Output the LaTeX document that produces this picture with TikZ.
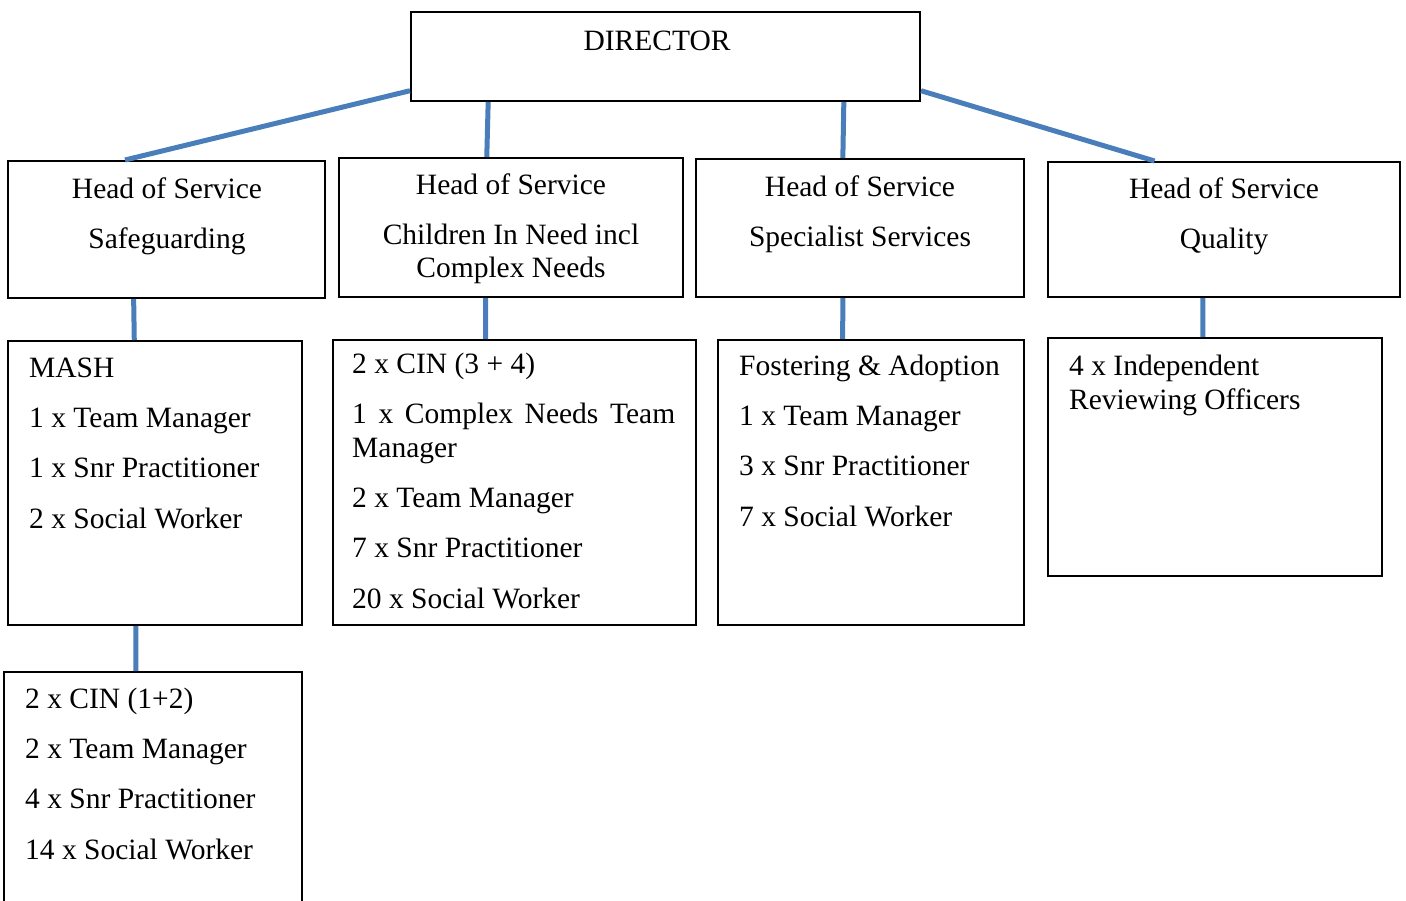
\documentclass[tikz,border=0pt]{standalone}
\usepackage{fontspec}
\setmainfont{Liberation Serif}
\usetikzlibrary{calc}
\definecolor{linkblue}{RGB}{74,126,187}
\tikzset{
  box/.style={draw=black, line width=2pt, inner sep=0pt},
  link/.style={draw=linkblue, line width=5pt},
  txt/.style={inner sep=0pt, font=\fontsize{29.5}{33.5}\selectfont},
}
\newcommand{\itemgap}{\\[16.8pt]}
\begin{document}
\begin{tikzpicture}[x=1pt, y=-1pt]
  \useasboundingbox (0,0) rectangle (1406,901);
  % boxes
  \node[box, minimum width=509pt, minimum height=89pt] (dir) at (665.5,56.5) {};
  \node[box, minimum width=317pt, minimum height=137pt] (hsafe) at (166.5,229.5) {};
  \node[box, minimum width=344pt, minimum height=139pt] (hcin) at (511,227.5) {};
  \node[box, minimum width=328pt, minimum height=138pt] (hspec) at (860,228) {};
  \node[box, minimum width=352pt, minimum height=135pt] (hqual) at (1224,229.5) {};
  \node[box, minimum width=294pt, minimum height=284pt] (mash) at (155,483) {};
  \node[box, minimum width=363pt, minimum height=285pt] (cin) at (514.5,482.5) {};
  \node[box, minimum width=306pt, minimum height=285pt] (fost) at (871,482.5) {};
  \node[box, minimum width=334pt, minimum height=238pt] (iro) at (1215,457) {};
  \node[box, minimum width=298pt, minimum height=243pt] (cinb) at (153,793.5) {};
  % texts (placed by the baseline of their last line)
  \node[txt, anchor=base] (dirtxt) at (657,51) {DIRECTOR};
  \node[txt, anchor=base, align=center] (hsafetxt) at (167,249) {Head of Service\itemgap Safeguarding};
  \node[txt, anchor=base, align=center] (hcintxt) at (511,278) {Head of Service\itemgap Children In Need incl\\Complex Needs};
  \node[txt, anchor=base, align=center] (hspectxt) at (860,247) {Head of Service\itemgap Specialist Services};
  \node[txt, anchor=base, align=center] (hqualtxt) at (1224,249) {Head of Service\itemgap Quality};
  \node[txt, anchor=base west, align=left] (mashtxt) at (29,528) {MASH\itemgap 1 x Team Manager\itemgap 1 x Snr Practitioner\itemgap 2 x Social Worker};
  \node[txt, anchor=base west, align=left] (cintxt) at (352,608) {2 x CIN (3 + 4)\itemgap \makebox[323pt][s]{1 x Complex Needs Team}\\Manager\itemgap 2 x Team Manager\itemgap 7 x Snr Practitioner\itemgap 20 x Social Worker};
  \node[txt, anchor=base west, align=left] (fosttxt) at (739,526) {Fostering \& Adoption\itemgap 1 x Team Manager\itemgap 3 x Snr Practitioner\itemgap 7 x Social Worker};
  \node[txt, anchor=base west, align=left] (irotxt) at (1069,409) {4 x Independent\\Reviewing Officers};
  \node[txt, anchor=base west, align=left] (cinbtxt) at (25,859) {2 x CIN (1+2)\itemgap 2 x Team Manager\itemgap 4 x Snr Practitioner\itemgap 14 x Social Worker};
  % connectors
  \draw[link] ($(dir.north west)!0.876!(dir.south west)$) -- ($(hsafe.north west)!0.37!(hsafe.north east)$);
  \draw[link] ($(dir.south west)!0.153!(dir.south east)$) -- ($(hcin.north west)!0.43!(hcin.north east)$);
  \draw[link] ($(dir.south west)!0.849!(dir.south east)$) -- ($(hspec.north west)!0.448!(hspec.north east)$);
  \draw[link] ($(dir.north east)!0.876!(dir.south east)$) -- ($(hqual.north west)!0.304!(hqual.north east)$);
  \draw[link] ($(hsafe.south west)!0.397!(hsafe.south east)$) -- ($(mash.north west)!0.43!(mash.north east)$);
  \draw[link] ($(hcin.south west)!0.427!(hcin.south east)$) -- ($(cin.north west)!0.421!(cin.north east)$);
  \draw[link] ($(hspec.south west)!0.448!(hspec.south east)$) -- ($(fost.north west)!0.408!(fost.north east)$);
  \draw[link] ($(hqual.south west)!0.44!(hqual.south east)$) -- ($(iro.north west)!0.464!(iro.north east)$);
  \draw[link] ($(mash.south west)!0.435!(mash.south east)$) -- ($(cinb.north west)!0.443!(cinb.north east)$);
\end{tikzpicture}
\end{document}
